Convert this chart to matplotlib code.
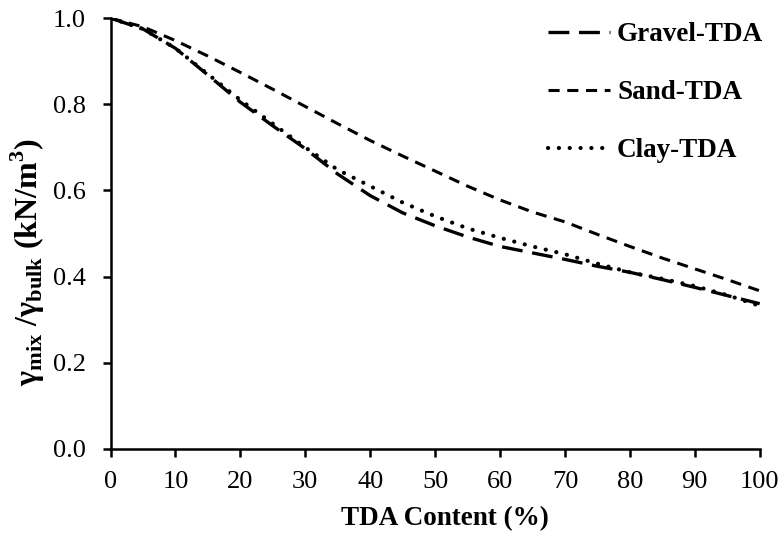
import matplotlib
matplotlib.use("Agg")
import matplotlib.pyplot as plt

plt.rcParams['font.family'] = ['Liberation Serif', 'DejaVu Serif']
plt.rcParams['mathtext.fontset'] = 'custom'
plt.rcParams['mathtext.rm'] = 'Liberation Serif'
plt.rcParams['mathtext.bf'] = 'Liberation Serif:bold'
plt.rcParams['lines.scale_dashes'] = False

# TDA content (%) and unit weight ratio for each soil mix
tda = [0, 5, 10, 15, 20, 25, 30, 35, 40, 45, 50, 55, 60, 65, 70, 75, 80, 85, 90, 95, 100]
gravel = [1.0, 0.975, 0.93, 0.868, 0.805, 0.75, 0.697, 0.638, 0.588, 0.548, 0.518,
          0.492, 0.47, 0.455, 0.44, 0.424, 0.41, 0.393, 0.375, 0.356, 0.337]
sand = [1.0, 0.98, 0.948, 0.912, 0.874, 0.835, 0.795, 0.755, 0.716, 0.68, 0.645,
        0.61, 0.578, 0.55, 0.527, 0.498, 0.47, 0.443, 0.418, 0.393, 0.367]
clay = [1.0, 0.975, 0.93, 0.87, 0.81, 0.755, 0.70, 0.648, 0.61, 0.572, 0.54,
        0.512, 0.49, 0.47, 0.452, 0.43, 0.41, 0.395, 0.378, 0.357, 0.332]

fig = plt.figure(figsize=(7.84, 5.35), dpi=100)
ax = fig.add_axes([0.141, 0.161, 0.828, 0.805])

ax.plot(tda, gravel, color='black', lw=2.4, linestyle=(0, (15, 7)), label='Gravel-TDA')
ax.plot(tda, sand, color='black', lw=2.2, linestyle=(0, (8, 5.5)), label='Sand-TDA')
ax.plot(tda, clay, color='black', lw=3.0, linestyle=(0, (0.1, 7.7)),
        dash_capstyle='round', label='Clay-TDA')

ax.set_xlim(0, 100)
ax.set_ylim(0, 1.0)
ax.set_xticks(range(0, 101, 10))
ax.set_yticks([0, 0.2, 0.4, 0.6, 0.8, 1.0])
ax.set_yticklabels(['0.0', '0.2', '0.4', '0.6', '0.8', '1.0'])
ax.tick_params(direction='out', length=6, width=1.8, labelsize=19)
ax.tick_params(axis='x', pad=10)
ax.tick_params(axis='y', pad=12)
for side in ['top', 'right']:
    ax.spines[side].set_visible(False)
for side in ['left', 'bottom']:
    ax.spines[side].set_linewidth(1.8)

ax.set_xlabel('TDA Content (%)', fontsize=19.5, fontweight='bold')
ax.xaxis.set_label_coords(0.515, -0.132)
ax.set_ylabel(r'γ$_{\mathbf{mix}}$ /γ$_{\mathbf{bulk}}$ (kN/m$^{\mathbf{3}}$)',
              fontsize=23, fontweight='bold')
ax.yaxis.set_label_coords(-0.098, 0.434)

ax.legend(loc='upper left', bbox_to_anchor=(548 / 784, 1 - 22 / 535),
          bbox_transform=fig.transFigure, frameon=False,
          prop={'weight': 'bold', 'size': 19.5}, handlelength=2.3,
          handletextpad=0.25, labelspacing=1.22, borderpad=0, borderaxespad=0)

fig.savefig('out.png', dpi=100)
